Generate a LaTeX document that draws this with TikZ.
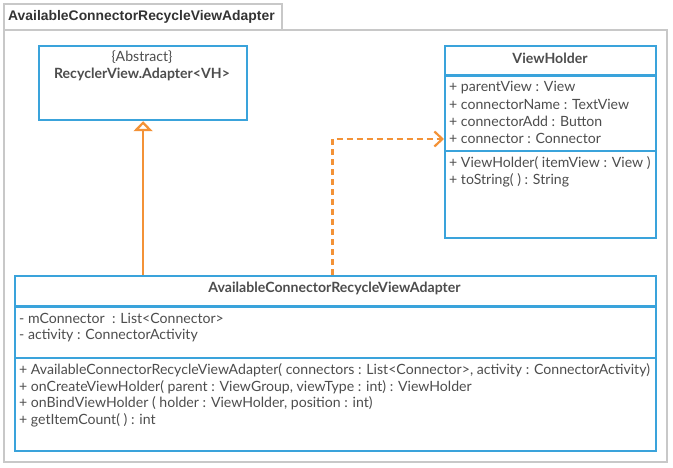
\documentclass[tikz,border=0pt]{standalone}
\usepackage{fontspec}
\setmainfont{Lato}
\newfontfamily\tabfont{Liberation Sans}
\usetikzlibrary{arrows.meta,calc}
\definecolor{umlblue}{HTML}{3AA3DB}
\definecolor{umlorange}{HTML}{F39237}
\definecolor{umltext}{HTML}{4D4D4D}
\definecolor{framegray}{HTML}{C8C8C8}
\tikzset{
  umlbox/.style={draw=umlblue, line width=2.2pt, fill=white, anchor=north west, inner sep=0pt},
  sep/.style={draw=umlblue, line width=2.2pt},
  member/.style={anchor=west, inner sep=0pt, text=umltext, font=\fontsize{14.1}{16}\selectfont},
  title/.style={anchor=center, inner sep=0pt, text=umltext, font=\fontsize{14.1}{16}\selectfont\bfseries},
  inherit/.style={draw=umlorange, line width=2.2pt, -{Triangle[open, length=10pt, width=19pt, fill=white, line width=2.2pt]}},
  depend/.style={draw=umlorange, line width=2.2pt, dash pattern=on 6pt off 4pt, -{Straight Barb[length=8pt, width=15pt, line width=2.2pt]}},
  frameline/.style={draw=framegray, line width=2.2pt}
}
\begin{document}
\begin{tikzpicture}[x=1pt,y=-1pt]
\useasboundingbox (0,0) rectangle (673,468);
% frame
\draw[frameline] (4,30) -- (4,4) -- (282,4) -- (282,30);
\draw[frameline] (4,30) rectangle (667,462);
\node[anchor=west, inner sep=0pt, text=black!80, font=\tabfont\fontsize{13.9}{16}\selectfont\bfseries] (frametitle) at (8,17) {AvailableConnectorRecycleViewAdapter};
% abstract class
\node[umlbox, minimum width=208pt, minimum height=74pt] (abs) at (38,45) {};
\node[member, anchor=center] (absst) at (142,57) {\{Abstract\}};
\node[title] (absname) at (142,74) {RecyclerView.Adapter<VH>};
% ViewHolder
\node[umlbox, minimum width=211pt, minimum height=192pt] (vh) at (444,45) {};
\draw[sep] (vh.west |- 0,75.5) -- (vh.east |- 0,75.5);
\draw[sep] (vh.west |- 0,151) -- (vh.east |- 0,151);
\node[title] (vhname) at (550,58) {ViewHolder};
\node[member] (vha1) at (449,88) {+ parentView : View};
\node[member] (vha2) at (449,104.7) {+ connectorName : TextView};
\node[member] (vha3) at (449,121.4) {+ connectorAdd : Button};
\node[member] (vha4) at (449,138) {+ connector : Connector};
\node[member] (vhm1) at (449,163.5) {+ ViewHolder( itemView : View )};
\node[member] (vhm2) at (449,180.2) {+ toString( ) : String};
% main class
\node[umlbox, minimum width=641pt, minimum height=175pt] (main) at (14,275) {};
\draw[sep] (main.west |- 0,306.5) -- (main.east |- 0,306.5);
\draw[sep] (main.west |- 0,358) -- (main.east |- 0,358);
\node[title] (mainname) at (334.5,288) {AvailableConnectorRecycleViewAdapter};
\node[member] (ma1) at (19,318.5) {- mConnector~ : List<Connector>};
\node[member] (ma2) at (19,335.2) {- activity : ConnectorActivity};
\node[member] (mm1) at (19,370) {+ AvailableConnectorRecycleViewAdapter( connectors : List<Connector>, activity : ConnectorActivity)};
\node[member] (mm2) at (19,386.8) {+ onCreateViewHolder( parent : ViewGroup, viewType : int) : ViewHolder};
\node[member] (mm3) at (19,403.5) {+ onBindViewHolder ( holder : ViewHolder, position : int)};
\node[member] (mm4) at (19,420.2) {+ getItemCount( ) : int};
% connectors
\draw[inherit] (main.north -| abs.south) -- (abs.south);
\coordinate (bend) at (332.5,139);
\draw[depend] (main.north -| bend) -- (bend) -- (vh.west |- bend);
\end{tikzpicture}
\end{document}
